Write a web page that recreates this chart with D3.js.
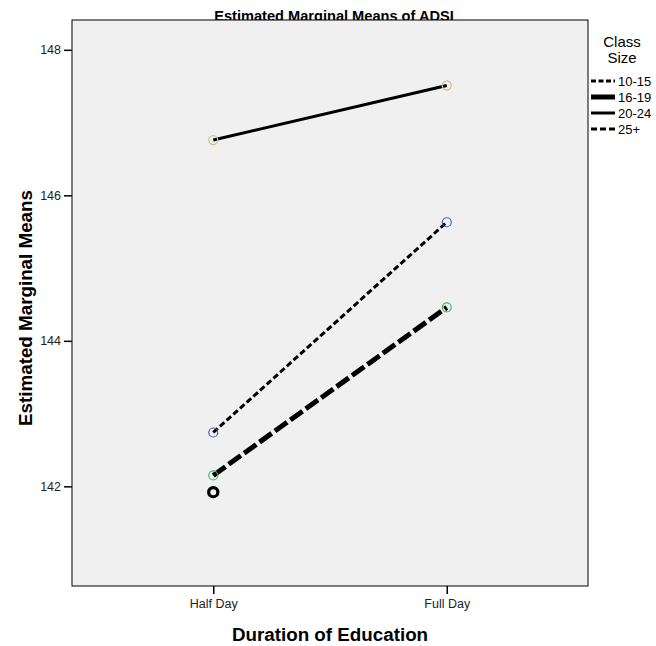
<!DOCTYPE html>
<html>
<head>
<meta charset="utf-8">
<script src="https://cdn.jsdelivr.net/npm/d3@7"></script>
<style>
  body { margin: 0; background: #fff; }
  svg text { font-family: "Liberation Sans", Arial, sans-serif; }
</style>
</head>
<body>
<svg id="chart" width="656" height="646"></svg>
<script>
// data
const durations = ['Half Day', 'Full Day'];
const classSizes = ['10-15', '16-19', '20-24', '25+'];
const means1015 = [142.74, 145.63];
const means1619 = [142.15, 144.46];
const means2024 = [146.76, 147.51];
const means25 = [141.92, null];
const yTicks = [142, 144, 146, 148];

const series = [
  { name: '10-15', values: means1015, dash: '6,3', legendDash: '5,2.5', width: 3, marker: '#4060c0', markerWidth: 1.2, r: 4.5 },
  { name: '16-19', values: means1619, dash: '15,4', legendDash: null, width: 5, marker: '#3cbf58', markerWidth: 1.2, r: 4.5 },
  { name: '20-24', values: means2024, dash: null, legendDash: null, width: 3, marker: '#d0c680', markerWidth: 1.3, r: 4.5 },
  { name: '25+', values: means25, dash: '8,4', legendDash: '6,3', width: 3, marker: '#000', markerWidth: 3.2, r: 4.6 }
];

const svg = d3.select('#chart');
const plot = { left: 72, top: 20, right: 588, bottom: 586 };

const x = d3.scalePoint()
  .domain(durations)
  .range([plot.left, plot.right])
  .padding(0.605);

const y = d3.scaleLinear()
  .domain([140.63, 148.41])
  .range([plot.bottom, plot.top]);

// title (partly hidden behind the plot area, as in the original)
svg.append('text')
  .attr('x', (plot.left + plot.right) / 2 + 4)
  .attr('y', 21)
  .attr('text-anchor', 'middle')
  .attr('font-size', 14.6)
  .attr('font-weight', 'bold')
  .text('Estimated Marginal Means of ADSI');

// plot background
svg.append('rect')
  .attr('x', plot.left)
  .attr('y', plot.top)
  .attr('width', plot.right - plot.left)
  .attr('height', plot.bottom - plot.top)
  .attr('fill', '#f0f0f0')
  .attr('stroke', '#000')
  .attr('stroke-width', 1);

// axes
const yAxis = svg.append('g')
  .attr('transform', `translate(${plot.left},0)`)
  .call(d3.axisLeft(y).tickValues(yTicks).tickSize(8).tickFormat(d3.format('d')));
yAxis.select('.domain').remove();
yAxis.selectAll('text').attr('font-size', 12.5).attr('fill', '#222')
  .style('font-family', '"Liberation Sans", Arial, sans-serif');
yAxis.selectAll('line').attr('stroke-width', 1.5);

const xAxis = svg.append('g')
  .attr('transform', `translate(0,${plot.bottom})`)
  .call(d3.axisBottom(x).tickSize(8).tickPadding(5));
xAxis.select('.domain').remove();
xAxis.selectAll('text').attr('font-size', 12.5).attr('fill', '#222')
  .style('font-family', '"Liberation Sans", Arial, sans-serif');
xAxis.selectAll('line').attr('stroke-width', 1.5);

// axis titles
svg.append('text')
  .attr('transform', 'translate(32,308) rotate(-90)')
  .attr('text-anchor', 'middle')
  .attr('font-size', 18.8)
  .attr('font-weight', 'bold')
  .text('Estimated Marginal Means');

svg.append('text')
  .attr('x', 330)
  .attr('y', 641)
  .attr('text-anchor', 'middle')
  .attr('font-size', 18.8)
  .attr('font-weight', 'bold')
  .text('Duration of Education');

// lines
const line = d3.line()
  .defined(d => d.v !== null)
  .x(d => x(d.k))
  .y(d => y(d.v));

series.forEach(s => {
  const pts = durations.map((k, i) => ({ k, v: s.values[i] }));
  svg.append('path')
    .datum(pts)
    .attr('d', line)
    .attr('fill', 'none')
    .attr('stroke', '#000')
    .attr('stroke-width', s.width)
    .attr('stroke-dasharray', s.dash);

  svg.selectAll(null)
    .data(pts.filter(d => d.v !== null))
    .enter()
    .append('circle')
    .attr('cx', d => x(d.k))
    .attr('cy', d => y(d.v))
    .attr('r', s.r)
    .attr('fill', 'none')
    .attr('stroke', s.marker)
    .attr('stroke-width', s.markerWidth);
});

// legend
const legend = svg.append('g');
legend.append('text')
  .attr('x', 622).attr('y', 47)
  .attr('text-anchor', 'middle')
  .attr('font-size', 15)
  .text('Class');
legend.append('text')
  .attr('x', 622).attr('y', 63)
  .attr('text-anchor', 'middle')
  .attr('font-size', 15)
  .text('Size');

const legendY = d3.scalePoint().domain(classSizes).range([81, 129]);
series.forEach(s => {
  const ly = legendY(s.name);
  legend.append('line')
    .attr('x1', 591).attr('x2', 615)
    .attr('y1', ly).attr('y2', ly)
    .attr('stroke', '#000')
    .attr('stroke-width', s.width)
    .attr('stroke-dasharray', s.legendDash);
  legend.append('text')
    .attr('x', 618).attr('y', ly + 5)
    .attr('font-size', 13)
    .text(s.name);
});
</script>
</body>
</html>
